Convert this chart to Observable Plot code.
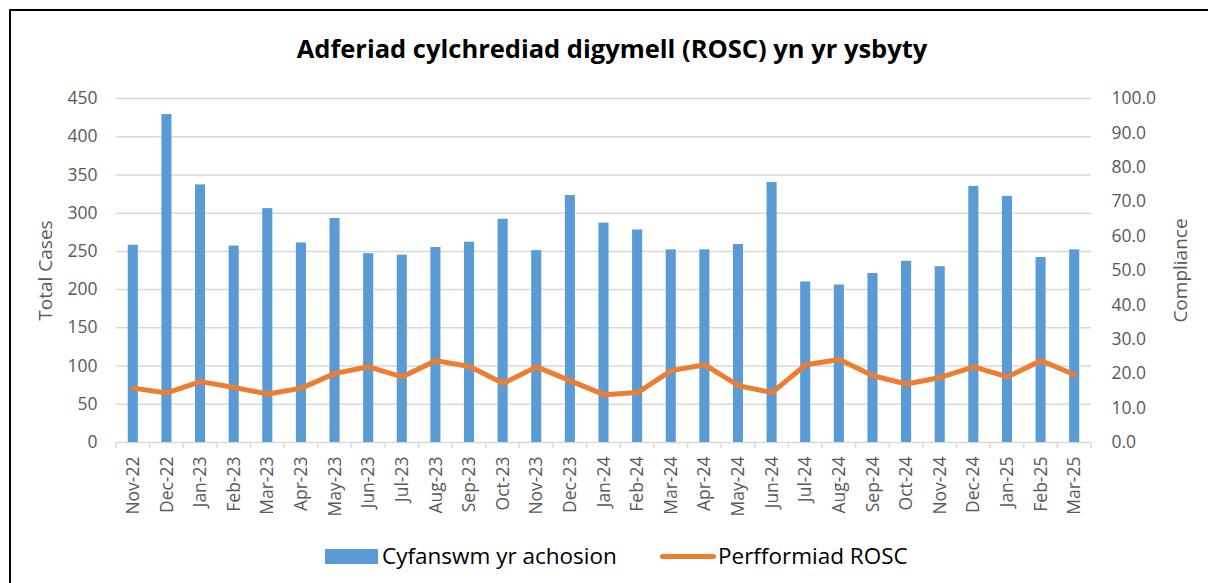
<!DOCTYPE html>
<html>
<head>
<meta charset="utf-8">
<script src="https://cdn.jsdelivr.net/npm/d3@7"></script>
<script src="https://cdn.jsdelivr.net/npm/@observablehq/plot@0.6"></script>
<style>
  html, body { margin: 0; padding: 0; background: #fff; }
  #wrap { position: relative; width: 1208px; height: 583px; overflow: hidden; font-family: "Open Sans", sans-serif; }
  #frame { position: absolute; left: 9px; top: 9px; width: 1300px; height: 700px; border: 2px solid #000; box-sizing: border-box; }
  #title { position: absolute; left: 0; width: 1224px; top: 30px; text-align: center; font-weight: 700; font-size: 25.5px; line-height: 36px; color: #000; }
  #chart { position: absolute; left: 0; top: 0; }
  #legend { position: absolute; top: 540px; left: 0; width: 1208px; height: 32px; }
  .lg { position: absolute; top: 0; font-size: 22.5px; color: #000; line-height: 32px; }
  .sw { position: absolute; }
</style>
</head>
<body>
<div id="wrap">
  <div id="frame"></div>
  <div id="chart"></div>
  <div id="title">Adferiad cylchrediad digymell (ROSC) yn yr ysbyty</div>
  <div id="legend">
    <div class="sw" style="left:325px; top:9px; width:53px; height:15px; background:#5b9bd5;"></div>
    <div class="lg" style="left:382px;">Cyfanswm yr achosion</div>
    <div class="sw" style="left:660px; top:14px; width:56px; height:5px; border-radius:3px; background:#ed7d31;"></div>
    <div class="lg" style="left:718px;">Perfformiad ROSC</div>
  </div>
</div>
<script>
const months = ["Nov-22","Dec-22","Jan-23","Feb-23","Mar-23","Apr-23","May-23","Jun-23","Jul-23","Aug-23","Sep-23","Oct-23","Nov-23","Dec-23","Jan-24","Feb-24","Mar-24","Apr-24","May-24","Jun-24","Jul-24","Aug-24","Sep-24","Oct-24","Nov-24","Dec-24","Jan-25","Feb-25","Mar-25"];
const totalCases = [258,429,337,257,306,261,293,247,245,255,262,292,251,323,287,278,252,252,259,340,210,206,221,237,230,335,322,242,252];
const rosc = [15.8,14.4,17.7,16.0,14.1,15.8,20.1,22.0,19.1,23.8,22.1,17.2,22.0,17.9,13.9,14.5,20.9,22.6,16.5,14.5,22.6,24.1,19.4,17.0,18.9,22.0,19.1,23.8,19.7];
const leftTicks = [0,50,100,150,200,250,300,350,400,450];
const rightTicks = [0,10,20,30,40,50,60,70,80,90,100];

const leftMax = 450, rightMax = 100;
const ratio = leftMax / rightMax;

const rows = months.map((m, i) => ({month: m, cases: totalCases[i], rosc: rosc[i]}));

const gray = "#595959";

const boundaryTicks = (index, scales, values, dimensions) => {
  const g = d3.create("svg:g");
  const y0 = scales.y(0);
  const bw = scales.x.bandwidth ? scales.x.bandwidth() : 0;
  const xs = months.map(m => scales.x(m));
  const step = months.length > 1 ? xs[1] - xs[0] : bw;
  const bounds = xs.map(x => x - (step - bw) / 2);
  bounds.push(xs[xs.length - 1] + bw + (step - bw) / 2);
  for (const bx of bounds) {
    g.append("line").attr("x1", bx).attr("x2", bx).attr("y1", y0).attr("y2", y0 + 6)
      .attr("stroke", "#d9d9d9").attr("stroke-width", 1.5);
  }
  return g.node();
};

const chart = Plot.plot({
  width: 1208,
  height: 530,
  marginTop: 98,
  marginLeft: 116,
  marginRight: 117,
  marginBottom: 88,
  style: {fontFamily: "'Open Sans', sans-serif", background: "transparent", overflow: "visible"},
  x: {type: "band", domain: months, paddingInner: 0.7, paddingOuter: 0.35, round: false, label: null},
  y: {domain: [0, leftMax], label: null},
  marks: [
    Plot.gridY(leftTicks, {stroke: "#d9d9d9", strokeOpacity: 1, strokeWidth: 1.5}),
    boundaryTicks,
    Plot.barY(rows, {x: "month", y: "cases", fill: "#5b9bd5"}),
    Plot.line(rows, {x: "month", y: d => d.rosc * ratio, stroke: "#ed7d31", strokeWidth: 5, strokeLinejoin: "round", strokeLinecap: "round"}),
    Plot.axisY(leftTicks, {anchor: "left", tickSize: 0, tickPadding: 19, fontSize: 17.5, fill: gray, label: null}),
    Plot.axisY(rightTicks.map(t => t * ratio), {anchor: "right", tickSize: 0, tickPadding: 20, fontSize: 17.5, fill: gray, label: null, textAnchor: "start", tickFormat: d => (d / ratio).toFixed(1)}),
    Plot.axisX({tickSize: 0, tickPadding: 14, tickRotate: -90, fontSize: 17.5, fill: gray, label: null}),
    Plot.text(["Total Cases"], {frameAnchor: "left", dx: -71, rotate: -90, textAnchor: "middle", fontSize: 19, fill: gray}),
    Plot.text(["Compliance"], {frameAnchor: "right", dx: 89, rotate: -90, textAnchor: "middle", fontSize: 19, fill: gray})
  ]
});
document.getElementById("chart").appendChild(chart);
</script>
</body>
</html>
